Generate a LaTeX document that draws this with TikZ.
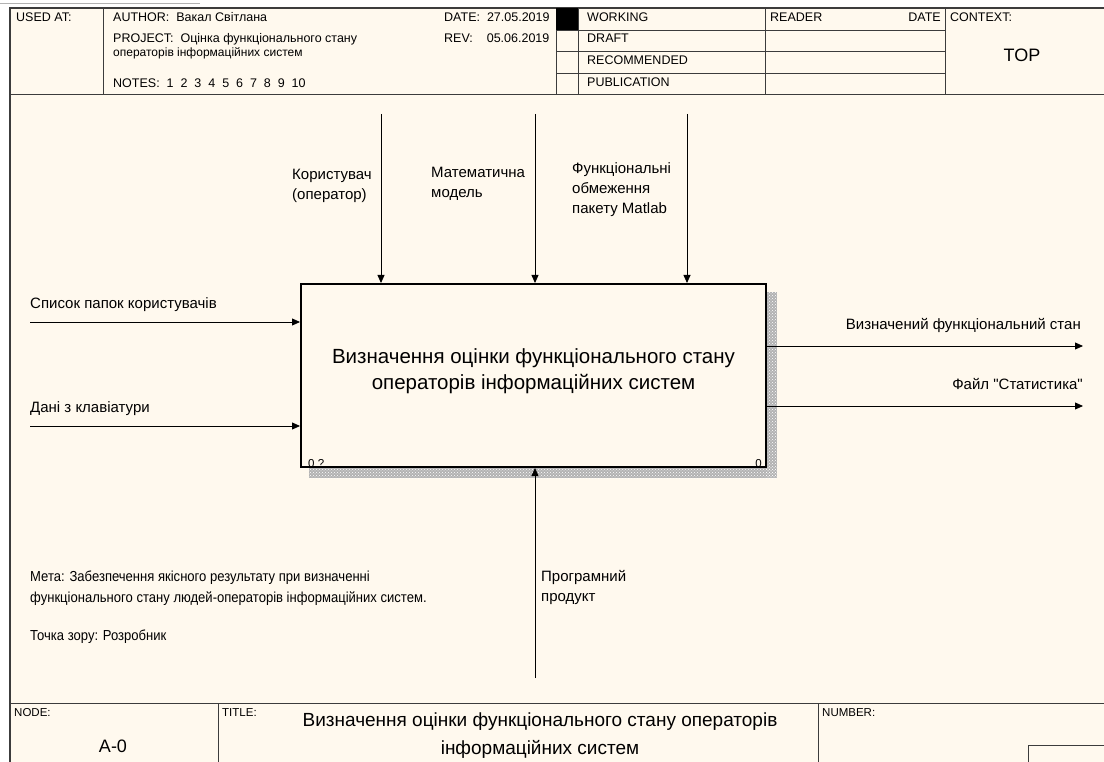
\documentclass[tikz,border=0pt]{standalone}
\usepackage{fontspec}
\setmainfont{Liberation Sans}[Ligatures=TeXOff]
\newfontfamily\narrowfont{Liberation Sans}[FakeStretch=0.9]
\usetikzlibrary{arrows.meta,patterns,positioning}

\definecolor{paper}{RGB}{255,249,238}
\definecolor{frameline}{RGB}{60,60,60}

\tikzset{
  arr/.style={-{Triangle[length=8pt,width=7pt]}, line width=0.8pt},
  hd/.style={anchor=base west, inner sep=0pt, font=\fontsize{12.5}{14}\selectfont},
  lbl/.style={anchor=north west, inner sep=0pt, align=left, font=\fontsize{15}{20}\selectfont},
  funcbox/.style={draw, line width=2pt, fill=paper, minimum width=465pt, minimum height=183pt},
  functext/.style={align=center, inner sep=0pt, font=\fontsize{20.5}{26}\selectfont},
  shadow/.style={fill=gray!60},
}

\begin{document}
\begin{tikzpicture}[x=1pt,y=-1pt]
  \useasboundingbox (0,0) rectangle (1104,762);

  % --- paper and frame ---
  \fill[white] (0,0) rectangle (1104,762);
  \draw[gray!60, line width=1pt] (0,4) -- (200,4);
  \fill[paper] (10,8) rectangle (1104,762);
  \draw[line width=2pt, frameline] (10,762) -- (10,8) -- (1104,8);

  % --- header ---
  \draw[frameline, line width=1pt] (10,95) -- (1104,95);
  \draw[frameline] (103,8) -- (103,95);
  \draw[frameline] (556,8) -- (556,95);
  \draw[frameline] (578,8) -- (578,95);
  \draw[frameline] (765,8) -- (765,95);
  \draw[frameline] (945,8) -- (945,95);
  \foreach \yy in {30,51,73} \draw[frameline] (556,\yy) -- (945,\yy);
  \fill (556,8) rectangle (578,30);

  \node[hd] (usedat) at (16,22) {USED AT:};
  \node[hd] (author) at (113,22) {AUTHOR:\ \ Вакал Світлана};
  \node[hd] (project) at (113,43) {PROJECT:\ \ Оцінка функціонального стану};
  \node[hd, font=\fontsize{12}{14}\selectfont] (project2) at (113,57) {операторів інформаційних систем};
  \node[hd] (notes) at (113,88) {NOTES:\ \ 1\ \ 2\ \ 3\ \ 4\ \ 5\ \ 6\ \ 7\ \ 8\ \ 9\ \ 10};
  \node[hd] (date) at (444,22) {DATE:\ \ 27.05.2019};
  \node[hd] (rev) at (444,43) {REV:\ \ \ \ 05.06.2019};
  \node[hd] (working) at (587,22) {WORKING};
  \node[hd] (draft) at (587,43) {DRAFT};
  \node[hd] (recommended) at (587,65) {RECOMMENDED};
  \node[hd] (publication) at (587,87) {PUBLICATION};
  \node[hd] (reader) at (770,22) {READER};
  \node[hd, anchor=base east] (rdate) at (941,22) {DATE};
  \node[hd] (context) at (950,22) {CONTEXT:};
  \node[hd, anchor=base, font=\fontsize{18}{20}\selectfont] (top) at (1022,62) {TOP};

  % --- functional block with shadow ---
  \fill[shadow] (766,292) rectangle (777,478);
  \fill[shadow] (309,467) rectangle (777,478);
  \fill[pattern=crosshatch dots, pattern color=white] (766,292) rectangle (777,478);
  \fill[pattern=crosshatch dots, pattern color=white] (309,467) rectangle (777,478);
  \node[funcbox] (func) at (533.5,375.5) {};
  \node[functext] (functitle) at ([yshift=4pt]func.center) {Визначення оцінки функціонального стану\\операторів інформаційних систем};
  \node[hd, font=\fontsize{11.5}{12}\selectfont] (fnum) at (308,467) {0\ ?};
  \node[hd, anchor=base east, font=\fontsize{11.5}{12}\selectfont] (fno) at (762,467) {0};

  % --- controls ---
  \coordinate (c1) at (381,114);
  \coordinate (c2) at (535,114);
  \coordinate (c3) at (687,114);
  \draw[arr] (c1) -- (c1 |- func.north);
  \draw[arr] (c2) -- (c2 |- func.north);
  \draw[arr] (c3) -- (c3 |- func.north);
  \node[lbl] (lc1) at (292,169) {Користувач\\(оператор)};
  \node[lbl] (lc2) at (431,167) {Математична\\модель};
  \node[lbl] (lc3) at (572,162) {Функціональні\\обмеження\\пакету Matlab};

  % --- inputs ---
  \coordinate (i1) at (30,322);
  \coordinate (i2) at (30,426);
  \draw[arr] (i1) -- (i1 -| func.west);
  \draw[arr] (i2) -- (i2 -| func.west);
  \node[lbl] (li1) at (30,297.5) {Список папок користувачів};
  \node[lbl] (li2) at (30,401.5) {Дані з клавіатури};

  % --- outputs ---
  \coordinate (o1) at (1083,346);
  \coordinate (o2) at (1083,406);
  \draw[arr] (o1 -| func.east) -- (o1);
  \draw[arr] (o2 -| func.east) -- (o2);
  \node[lbl, anchor=north east] (lo1) at (1081,318.5) {Визначений функціональний стан};
  \node[lbl, anchor=north east] (lo2) at (1083,378.5) {Файл "Статистика"};

  % --- mechanism ---
  \coordinate (m1) at (535,678);
  \draw[arr] (m1) -- (m1 |- func.south);
  \node[lbl] (lm1) at (541,570.5) {Програмний\\продукт};

  % --- notes ---
  \node[lbl, font=\narrowfont\fontsize{14.5}{21}\selectfont] (purpose) at (30,571)
    {Мета: Забезпечення якісного результату при визначенні\\функціонального стану людей-операторів інформаційних систем.};
  \node[lbl, font=\narrowfont\fontsize{14.5}{21}\selectfont] (viewpoint) at (30,630) {Точка зору: Розробник};

  % --- footer ---
  \draw[frameline, line width=1pt] (10,703) -- (1104,703);
  \draw[frameline] (218,703) -- (218,762);
  \draw[frameline] (818,703) -- (818,762);
  \draw[frameline, line width=1pt] (1028,770) -- (1028,745) -- (1110,745);
  \node[hd, font=\fontsize{11.5}{12}\selectfont] (node) at (14,716) {NODE:};
  \node[hd, anchor=base, font=\fontsize{18}{20}\selectfont] (a0) at (113,752) {A-0};
  \node[hd, font=\fontsize{11.5}{12}\selectfont] (title) at (222,716) {TITLE:};
  \node[hd, anchor=base, font=\fontsize{19}{20}\selectfont] (title1) at (540,726) {Визначення оцінки функціонального стану операторів};
  \node[hd, anchor=base, font=\fontsize{19}{20}\selectfont] (title2) at (540,754) {інформаційних систем};
  \node[hd, font=\fontsize{11.5}{12}\selectfont] (number) at (822,716) {NUMBER:};
\end{tikzpicture}
\end{document}
